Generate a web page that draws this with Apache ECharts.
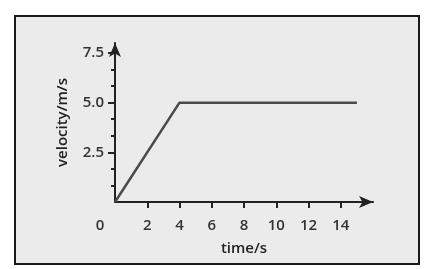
<!DOCTYPE html>
<html>
<head>
<meta charset="utf-8">
<script src="https://cdn.jsdelivr.net/npm/echarts@6/dist/echarts.min.js"></script>
<style>
html,body{margin:0;padding:0;background:#fff;}
#c{width:427px;height:269px;}
</style>
</head>
<body>
<div id="c"></div>
<script>
// Data
const timeValues = [0, 4, 15];
const velocityValues = [0, 5, 5];
const xTickLabels = [2, 4, 6, 8, 10, 12, 14];
const yTickLabels = [2.5, 5.0, 7.5];
const yMinorTicks = [0.833, 1.667, 3.333, 4.167, 5.833, 6.667];
const xAxisName = 'time/s';
const yAxisName = 'velocity/m/s';

const FONT = 'Open Sans';
const chart = echarts.init(document.getElementById('c'), null, {renderer: 'canvas'});

const lineData = timeValues.map((t, i) => [t, velocityValues[i]]);

const option = {
  animation: false,
  backgroundColor: '#ffffff',
  graphic: [{
    type: 'rect',
    z: -10,
    shape: {x: 15, y: 16, width: 404, height: 248},
    style: {fill: '#ebebeb', stroke: '#1a1a1a', lineWidth: 2}
  }],
  grid: {left: 115, top: 43, right: 54, bottom: 67},
  xAxis: {
    type: 'value', min: 0, max: 16,
    splitLine: {show: false},
    axisLine: {lineStyle: {color: '#222', width: 2}, symbol: ['none', 'arrow'], symbolSize: [9, 14]},
    axisTick: {show: true, customValues: xTickLabels, length: 6, lineStyle: {color: '#222', width: 2}},
    axisLabel: {
      customValues: [0].concat(xTickLabels),
      margin: 16,
      color: '#333', fontFamily: FONT, fontWeight: 600, fontSize: 15,
      formatter: v => v === 0 ? '{z|0}' : String(v),
      rich: {z: {padding: [0, 30, 0, 0], color: '#333', fontFamily: FONT, fontWeight: 600, fontSize: 15}}
    },
    name: xAxisName, nameLocation: 'middle', nameGap: 39,
    nameTextStyle: {color: '#222', fontFamily: FONT, fontWeight: 600, fontSize: 15}
  },
  yAxis: [{
    type: 'value', min: 0, max: 8,
    splitLine: {show: false},
    axisLine: {lineStyle: {color: '#222', width: 2}, symbol: ['none', 'arrow'], symbolSize: [9, 14]},
    axisTick: {show: true, customValues: yTickLabels, length: 7, lineStyle: {color: '#222', width: 2}},
    axisLabel: {
      customValues: yTickLabels, margin: 11,
      color: '#333', fontFamily: FONT, fontWeight: 600, fontSize: 15,
      formatter: v => v.toFixed(1)
    },
    name: yAxisName, nameLocation: 'middle', nameGap: 45, nameRotate: 90,
    nameTextStyle: {color: '#222', fontFamily: FONT, fontWeight: 600, fontSize: 15}
  }, {
    type: 'value', min: 0, max: 8, position: 'left',
    splitLine: {show: false},
    axisLine: {show: false},
    axisTick: {show: true, customValues: yMinorTicks, length: 4, lineStyle: {color: '#222', width: 2}},
    axisLabel: {show: false}
  }],
  series: [{
    type: 'line',
    data: lineData,
    showSymbol: false,
    lineStyle: {color: '#4a4a4a', width: 2.5},
    z: 1
  }]
};
chart.setOption(option);
</script>
</body>
</html>
